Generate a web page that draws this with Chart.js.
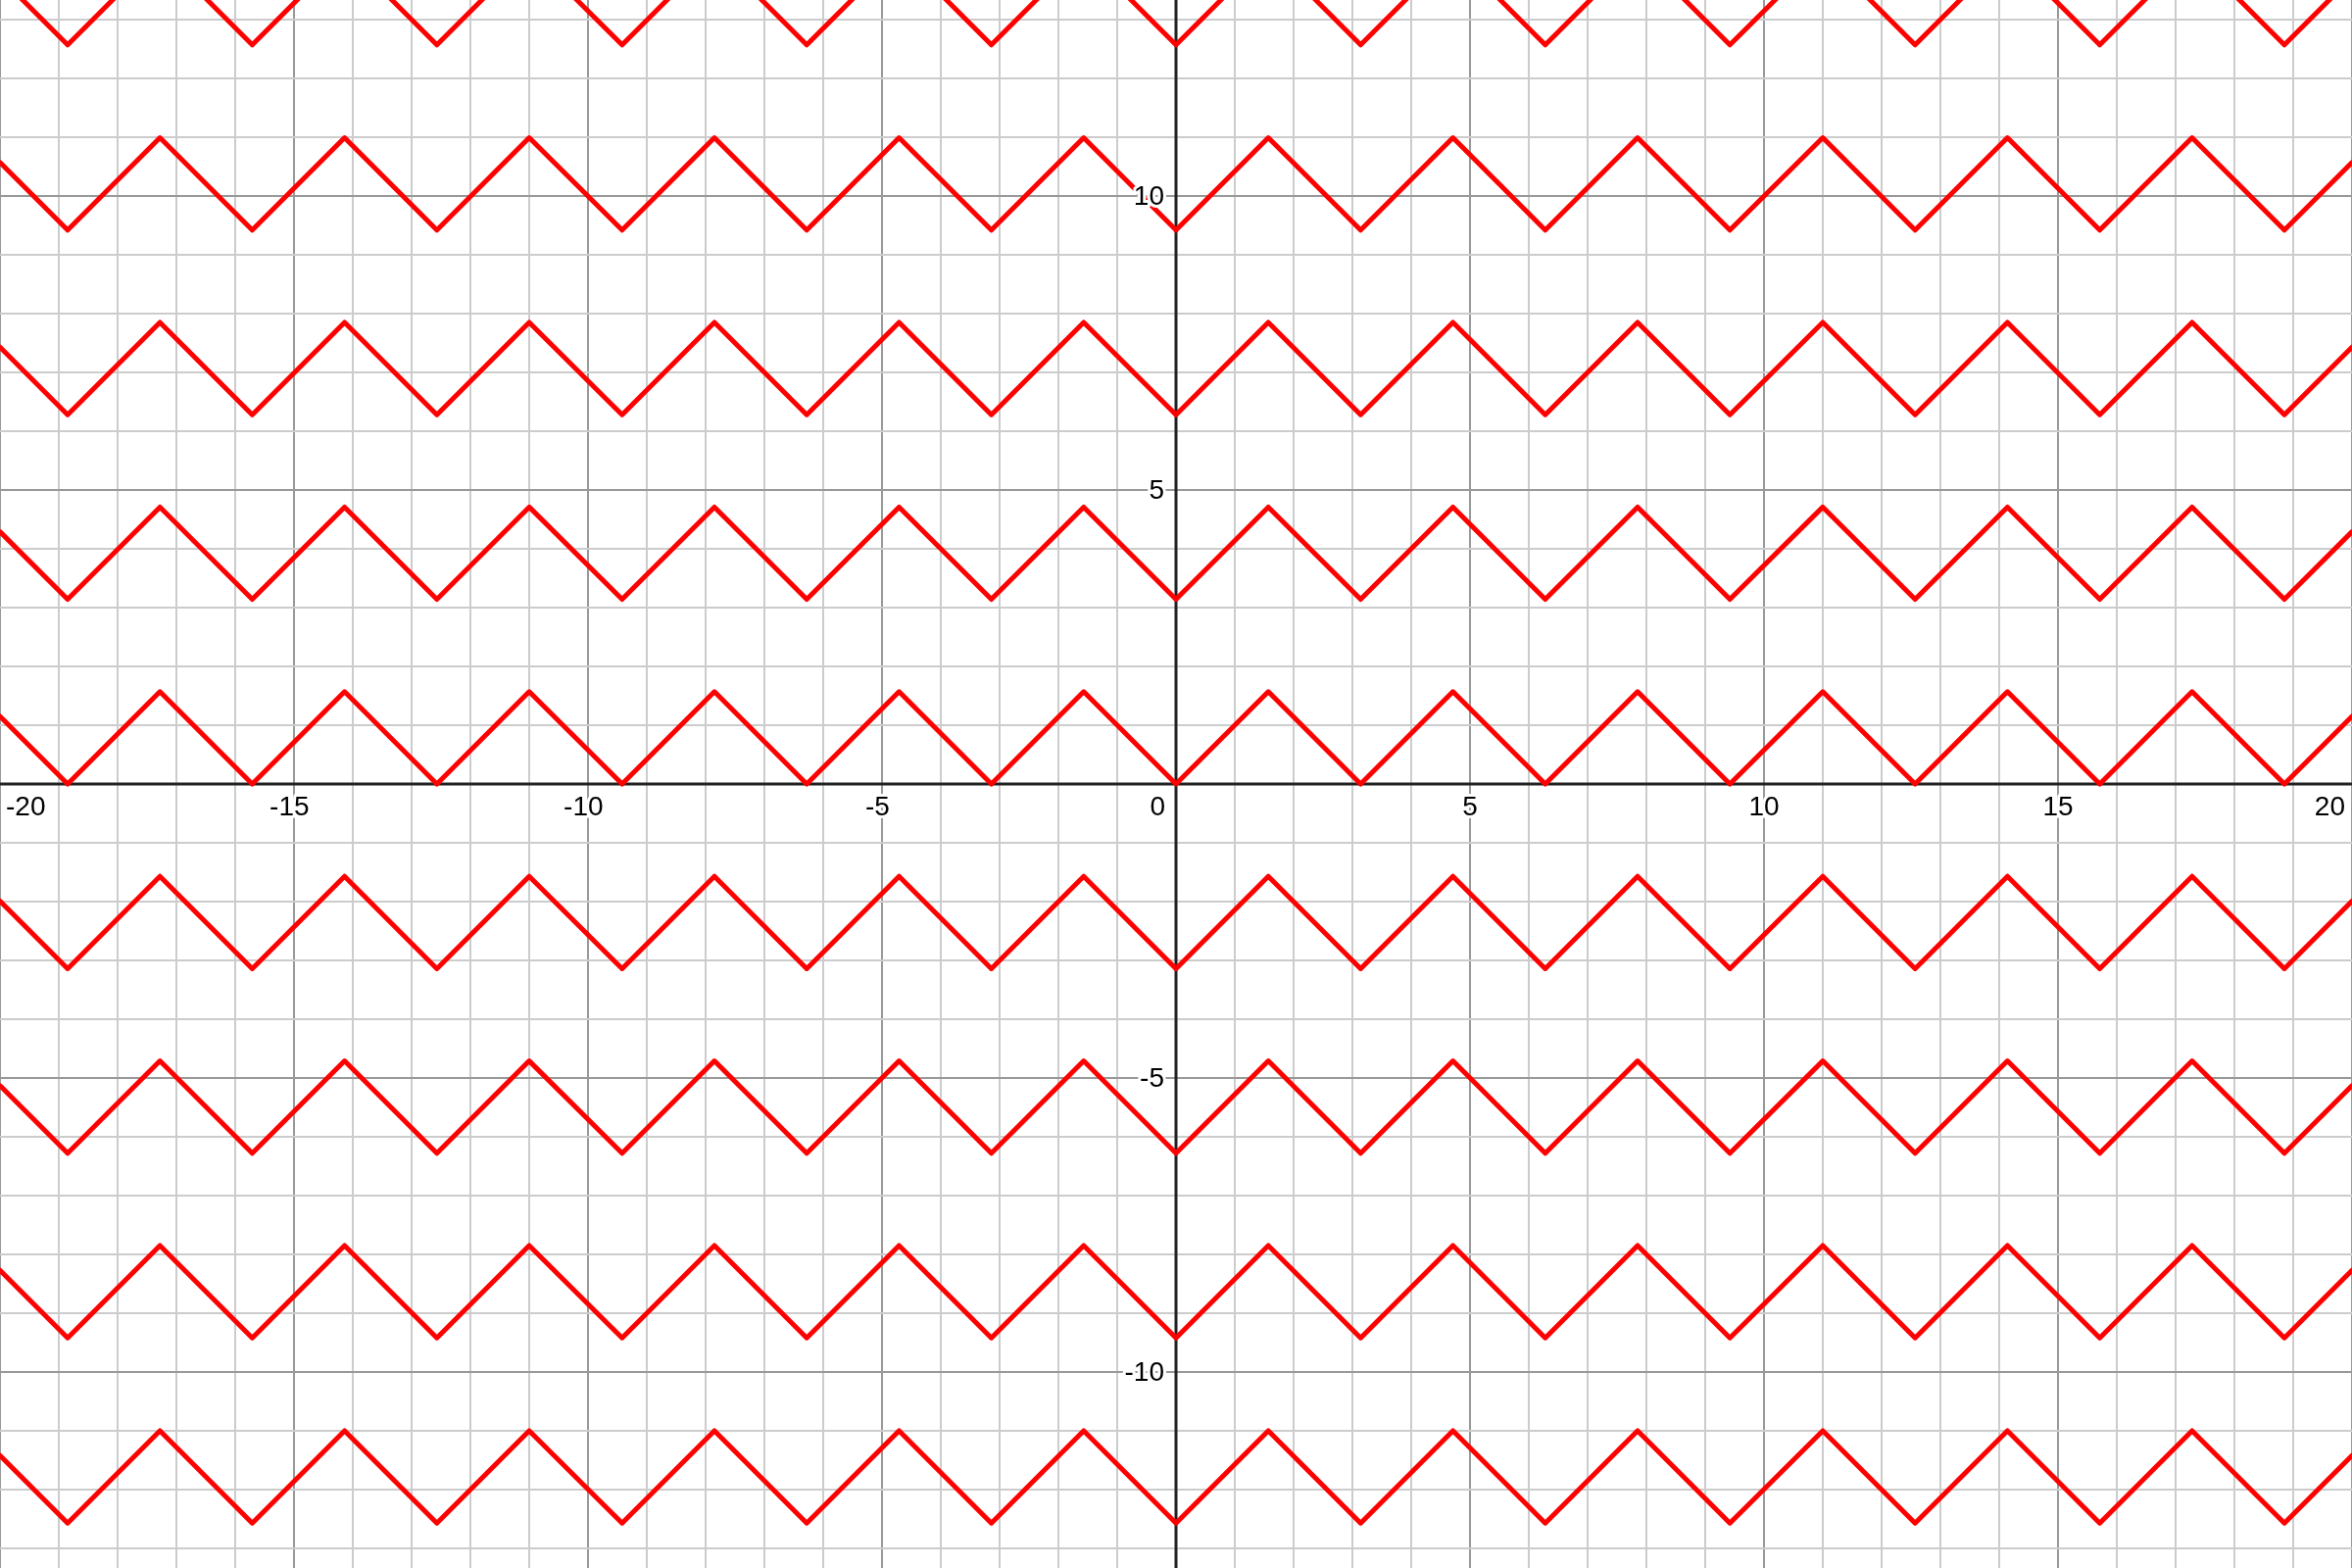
<!DOCTYPE html>
<html>
<head>
<meta charset="utf-8">
<script src="https://cdn.jsdelivr.net/npm/chart.js@4.4.1/dist/chart.umd.min.js"></script>
<style>
html,body{margin:0;padding:0;background:#fff;}
#wrap{width:2400px;height:1600px;position:relative;}
</style>
</head>
<body>
<div id="wrap"><canvas id="c"></canvas></div>
<script>
// Vertex x positions of the zigzag
const vertexX = [-20, -18.85, -17.28, -15.71, -14.14, -12.57, -11.00, -9.42, -7.85, -6.28, -4.71, -3.14, -1.57, 0,
                 1.57, 3.14, 4.71, 6.28, 7.85, 9.42, 11.00, 12.57, 14.14, 15.71, 17.28, 18.85, 20];
// Height of each vertex above its curve's baseline
const zigzagY = [1.15, 0, 1.57, 0, 1.57, 0, 1.57, 0, 1.57, 0, 1.57, 0, 1.57, 0,
                 1.57, 0, 1.57, 0, 1.57, 0, 1.57, 0, 1.57, 0, 1.57, 0, 1.15];
// Baselines (minima) of the nine curves
const levels = [-12.57, -9.42, -6.28, -3.14, 0, 3.14, 6.28, 9.42, 12.57];
// Axis tick labels
const xTickLabels = [-20, -15, -10, -5, 5, 10, 15, 20];
const yTickLabels = [-10, -5, 5, 10];

const X_MIN = -20, X_MAX = 20, Y_MIN = -13.333, Y_MAX = 13.333;

const datasets = levels.map(l => ({
  data: vertexX.map((x, i) => ({x: x, y: l + zigzagY[i]})),
  borderColor: '#ff0000',
  borderWidth: 5,
  borderJoinStyle: 'round',
  borderCapStyle: 'round',
  pointRadius: 0,
  showLine: true,
  fill: false,
  tension: 0
}));

function gridColor(ctx) {
  const v = ctx.tick ? ctx.tick.value : 0;
  if (Math.abs(v - Math.round(v)) > 1e-6) return 'rgba(0,0,0,0)';
  const r = Math.round(v);
  if (r === 0) return 'rgba(0,0,0,0)';
  return (r % 5 === 0) ? '#999999' : '#cccccc';
}

const FONT = '28px Arial, "Liberation Sans", sans-serif';

const axesPlugin = {
  id: 'axesPlugin',
  beforeDatasetsDraw(chart) {
    const ctx = chart.ctx, xs = chart.scales.x, ys = chart.scales.y, a = chart.chartArea;
    const x0 = xs.getPixelForValue(0), y0 = ys.getPixelForValue(0);
    ctx.save();
    ctx.strokeStyle = '#222222';
    ctx.lineWidth = 3;
    ctx.beginPath();
    ctx.moveTo(a.left, y0); ctx.lineTo(a.right, y0);
    ctx.moveTo(x0, a.top); ctx.lineTo(x0, a.bottom);
    ctx.stroke();
    ctx.restore();
  },
  afterDatasetsDraw(chart) {
    const ctx = chart.ctx, xs = chart.scales.x, ys = chart.scales.y, a = chart.chartArea;
    const x0 = xs.getPixelForValue(0), y0 = ys.getPixelForValue(0);
    ctx.save();
    ctx.font = FONT;
    ctx.textBaseline = 'alphabetic';
    ctx.lineJoin = 'round';
    function put(text, x, y) {
      ctx.strokeStyle = '#ffffff';
      ctx.lineWidth = 6;
      ctx.strokeText(text, x, y);
      ctx.fillStyle = '#000000';
      ctx.fillText(text, x, y);
    }
    ctx.textAlign = 'left';
    xTickLabels.forEach(v => {
      const px = xs.getPixelForValue(v);
      const digits = String(Math.abs(v));
      const dw = ctx.measureText(digits).width;
      const text = String(v);
      const tw = ctx.measureText(text).width;
      let left = px - dw / 2 - (tw - dw);
      if (left < a.left + 6) left = a.left + 6;
      if (left + tw > a.right - 7) left = a.right - 7 - tw;
      put(text, left, y0 + 32);
    });
    ctx.textAlign = 'right';
    yTickLabels.forEach(v => {
      const py = ys.getPixelForValue(v);
      put(String(v), x0 - 12, py + 9);
    });
    put('0', x0 - 11, y0 + 32);
    ctx.restore();
  }
};

new Chart(document.getElementById('c'), {
  type: 'scatter',
  data: { datasets: datasets },
  options: {
    responsive: true,
    maintainAspectRatio: false,
    animation: false,
    layout: { padding: 0, autoPadding: false },
    plugins: { legend: { display: false }, tooltip: { enabled: false } },
    scales: {
      x: {
        type: 'linear', min: X_MIN, max: X_MAX,
        ticks: { display: false, stepSize: 1 },
        grid: { color: gridColor, lineWidth: 2, drawTicks: false },
        border: { display: false }
      },
      y: {
        type: 'linear', min: Y_MIN, max: Y_MAX,
        ticks: { display: false, stepSize: 1 },
        grid: { color: gridColor, lineWidth: 2, drawTicks: false },
        border: { display: false }
      }
    }
  },
  plugins: [axesPlugin]
});
</script>
</body>
</html>
